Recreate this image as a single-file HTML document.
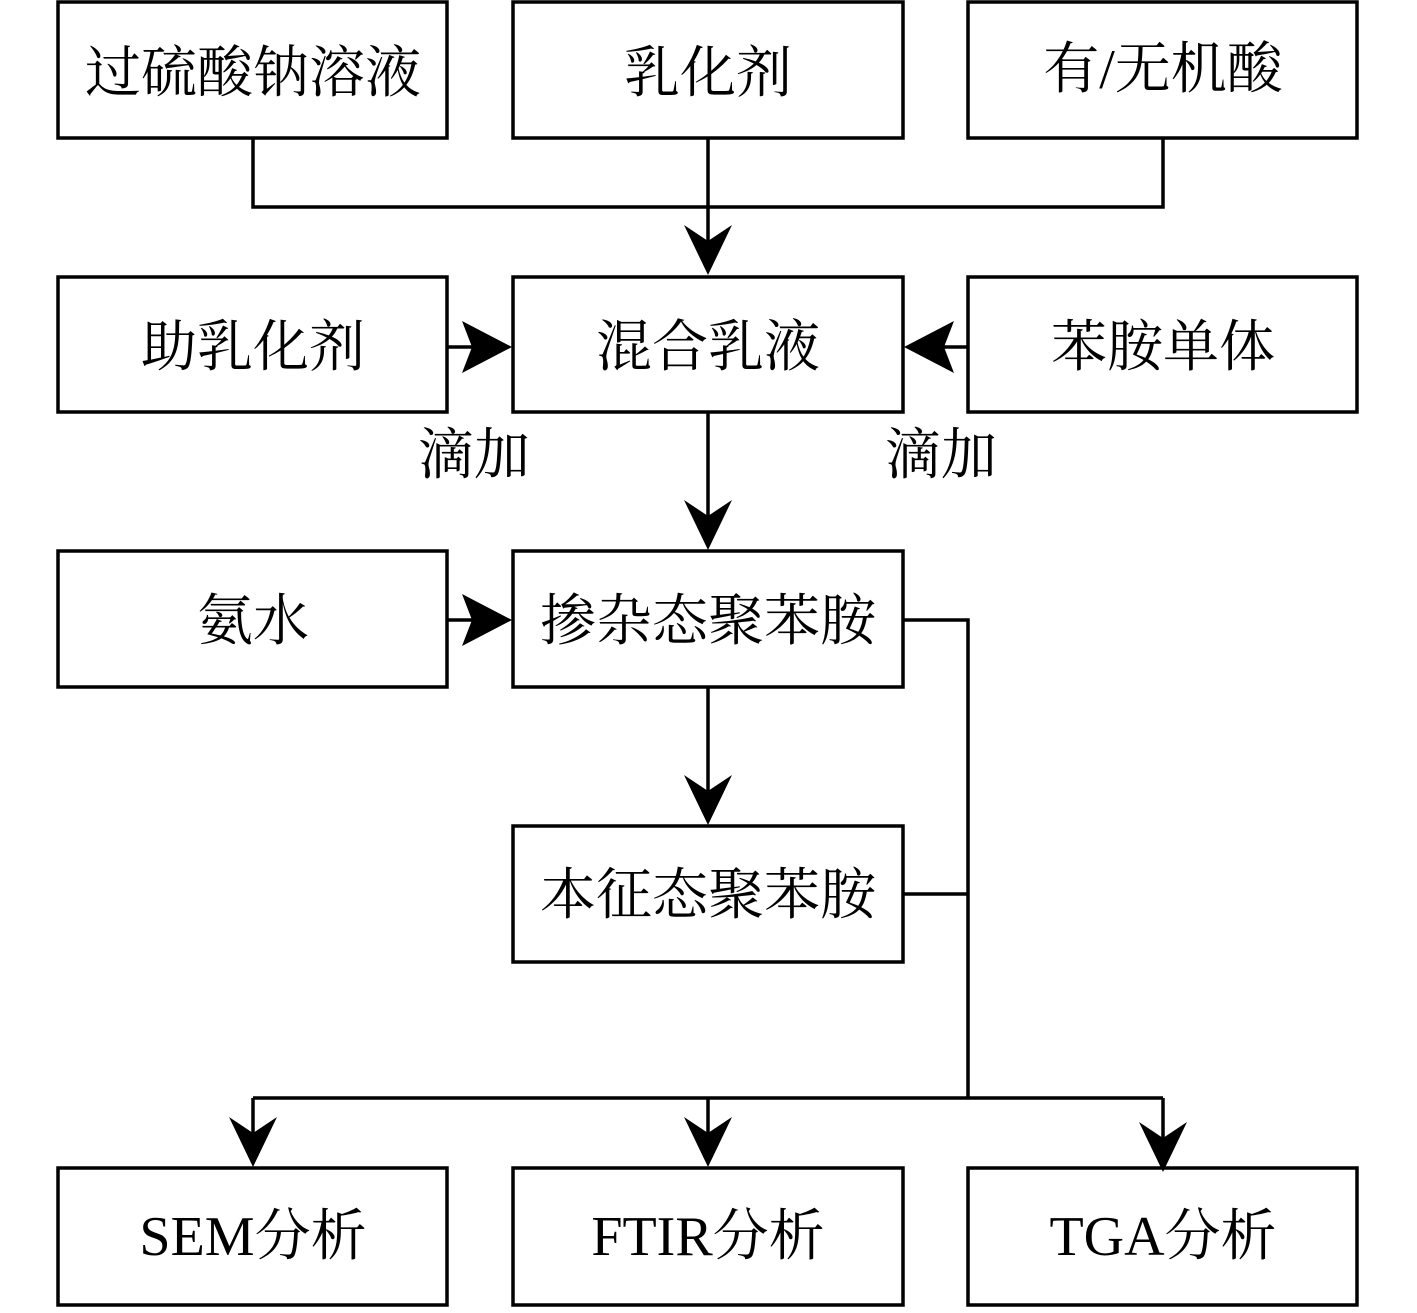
<!DOCTYPE html>
<html><head><meta charset="utf-8"><style>
html,body{margin:0;padding:0;background:#fff}
svg text{font-family:"Liberation Serif","Noto Serif CJK SC",serif;font-size:56px;fill:#000}
</style></head><body>
<svg width="1417" height="1308" viewBox="0 0 1417 1308" xmlns="http://www.w3.org/2000/svg">
<defs>
<path id="ad" d="M0,0 L-24,-50 L0,-34 L24,-50 Z"/>
<path id="ar" d="M0,0 L-50,-26 L-40,0 L-50,26 Z"/>
<path id="al" d="M0,0 L50,-26 L40,0 L50,26 Z"/>
</defs>
<g fill="none" stroke="#000" stroke-width="3.5">
<rect x="58" y="2" width="389" height="136"/>
<rect x="513" y="2" width="390" height="136"/>
<rect x="968" y="2" width="389" height="136"/>
<rect x="58" y="277" width="389" height="135"/>
<rect x="513" y="277" width="390" height="135"/>
<rect x="968" y="277" width="389" height="135"/>
<rect x="58" y="551" width="389" height="136"/>
<rect x="513" y="551" width="390" height="136"/>
<rect x="513" y="826" width="390" height="136"/>
<rect x="58" y="1168" width="389" height="137"/>
<rect x="513" y="1168" width="390" height="137"/>
<rect x="968" y="1168" width="389" height="137"/>
<path d="M253,138 V207 H1163 V138 M708,138 V250"/>
<path d="M447,347 H480 M968,347 H935"/>
<path d="M708,412 V520 M708,687 V795"/>
<path d="M447,620 H480"/>
<path d="M903,620 H968 V1098 M903,894 H968"/>
<path d="M253,1098 H1163 M253,1098 V1140 M708,1098 V1140 M1163,1098 V1140"/>
</g>
<g fill="#000">
<use href="#ad" x="708" y="275"/>
<use href="#ad" x="708" y="550"/>
<use href="#ad" x="708" y="825"/>
<use href="#ad" x="253" y="1167"/>
<use href="#ad" x="708" y="1167"/>
<use href="#ad" x="1163" y="1172"/>
<use href="#ar" x="512" y="347"/>
<use href="#ar" x="512" y="620"/>
<use href="#al" x="904" y="347"/>
</g>
<g text-anchor="middle">
<text x="253" y="92">过硫酸钠溶液</text>
<text x="708" y="92">乳化剂</text>
<text x="1163" y="88">有/无机酸</text>
<text x="253" y="366">助乳化剂</text>
<text x="708" y="366">混合乳液</text>
<text x="1163" y="366">苯胺单体</text>
<text x="474" y="474">滴加</text>
<text x="941" y="474">滴加</text>
<text x="253" y="640">氨水</text>
<text x="708" y="640">掺杂态聚苯胺</text>
<text x="708" y="914">本征态聚苯胺</text>
<text x="253" y="1255">SEM分析</text>
<text x="708" y="1255">FTIR分析</text>
<text x="1163" y="1255">TGA分析</text>
</g>
</svg>
</body></html>
